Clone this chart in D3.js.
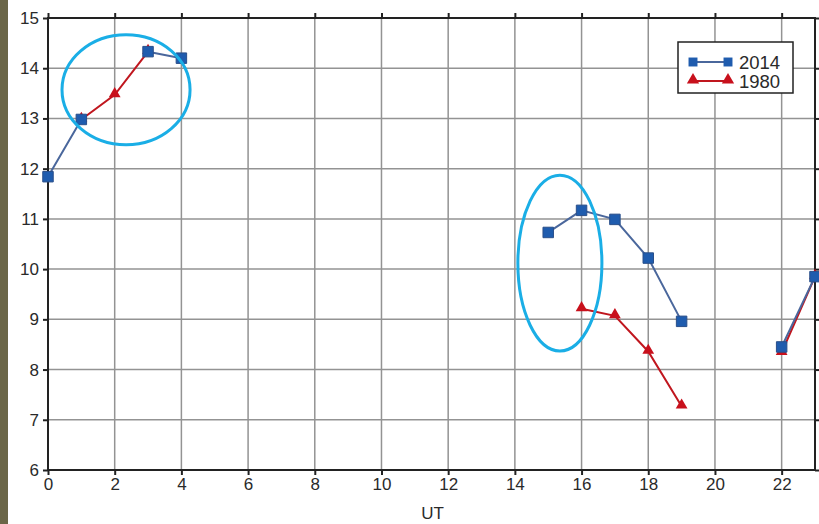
<!DOCTYPE html>
<html>
<head>
<meta charset="utf-8">
<script src="https://cdn.jsdelivr.net/npm/d3@7"></script>
<style>
  body { margin: 0; background: #fff; }
  svg { display: block; font-family: "Liberation Sans", Arial, sans-serif; }
</style>
</head>
<body>
<div id="chart"></div>
<script>
// 数据：每小时 (UT) 的值，null 表示没有数据
const hours = d3.range(0, 24);
const values2014 = [11.84, 12.98, null, 14.33, 14.2, null, null, null, null, null, null, null,
                    null, null, null, 10.73, 11.17, 10.99, 10.22, 8.96, null, null, 8.45, 9.85];
const values1980 = [null, 12.98, 13.47, 14.33, null, null, null, null, null, null, null, null,
                    null, null, null, null, 9.21, 9.07, 8.36, 7.27, null, null, 8.34, 9.85];
const xTicks = d3.range(0, 24, 2);
const yTicks = d3.range(6, 16);
const seriesNames = ["2014", "1980"];
// 标注椭圆（数据坐标）
const ellipses = [
  { cx: 2.34, cy: 13.57, rx: 1.92, ry: 1.095 },
  { cx: 15.35, cy: 10.12, rx: 1.26, ry: 1.75 }
];

const width = 819, height = 524;
const margin = { top: 18, right: 4, bottom: 54, left: 48 };

const svg = d3.select("#chart").append("svg")
  .attr("width", width)
  .attr("height", height);

// 左侧的深色边条
svg.append("rect")
  .attr("x", 0).attr("y", 0)
  .attr("width", 8).attr("height", height)
  .attr("fill", "#6b6648");

const x = d3.scaleLinear().domain([0, 23]).range([margin.left, width - margin.right]);
const y = d3.scaleLinear().domain([6, 15]).range([height - margin.bottom, margin.top]);

// 网格线
svg.append("g")
  .selectAll("line.v")
  .data(xTicks)
  .join("line")
  .attr("x1", d => x(d)).attr("x2", d => x(d))
  .attr("y1", y(6)).attr("y2", y(15))
  .attr("stroke", "#939393").attr("stroke-width", 1.5);

svg.append("g")
  .selectAll("line.h")
  .data(yTicks)
  .join("line")
  .attr("x1", x(0)).attr("x2", x(23))
  .attr("y1", d => y(d)).attr("y2", d => y(d))
  .attr("stroke", "#939393").attr("stroke-width", 1.5);

// 坐标轴
function styleAxis(g, showLabels) {
  g.select(".domain").remove();
  g.selectAll(".tick line").attr("stroke", "#222").attr("stroke-width", 2);
  g.selectAll(".tick text")
    .attr("fill", "#2a2a2a")
    .style("font-size", "17px")
    .attr("opacity", showLabels ? 1 : 0);
}

svg.append("g")
  .attr("transform", `translate(0,${y(6)})`)
  .call(d3.axisBottom(x).tickValues(xTicks).tickSize(5).tickPadding(3))
  .call(g => styleAxis(g, true));

svg.append("g")
  .attr("transform", `translate(0,${y(15)})`)
  .call(d3.axisTop(x).tickValues(xTicks).tickSize(5))
  .call(g => styleAxis(g, false));

svg.append("g")
  .attr("transform", `translate(${x(0)},0)`)
  .call(d3.axisLeft(y).tickValues(yTicks).tickSize(5).tickPadding(4))
  .call(g => styleAxis(g, true));

svg.append("g")
  .attr("transform", `translate(${x(23)},0)`)
  .call(d3.axisRight(y).tickValues(yTicks).tickSize(5))
  .call(g => styleAxis(g, false));

// 边框
svg.append("rect")
  .attr("x", x(0)).attr("y", y(15))
  .attr("width", x(23) - x(0)).attr("height", y(6) - y(15))
  .attr("fill", "none").attr("stroke", "#222").attr("stroke-width", 2);

// X 轴标题
svg.append("text")
  .attr("x", (x(0) + x(23)) / 2 + 1)
  .attr("y", 519)
  .attr("text-anchor", "middle")
  .attr("fill", "#2a2a2a")
  .style("font-size", "17px")
  .text("UT");

const line = d3.line()
  .defined(d => d.v !== null)
  .x(d => x(d.h))
  .y(d => y(d.v));

const red = hours.map((h, i) => ({ h: h, v: values1980[i] }));
const blue = hours.map((h, i) => ({ h: h, v: values2014[i] }));

const tri = d3.symbol().type(d3.symbolTriangle).size(60);
const sq = d3.symbol().type(d3.symbolSquare).size(110);

// 1980 系列
svg.append("path")
  .datum(red)
  .attr("d", line)
  .attr("fill", "none")
  .attr("stroke", "#c0161e")
  .attr("stroke-width", 2);

svg.append("g")
  .selectAll("path")
  .data(red.filter(d => d.v !== null))
  .join("path")
  .attr("transform", d => `translate(${x(d.h)},${y(d.v) - 1})`)
  .attr("d", tri)
  .attr("fill", "#c8101c");

// 2014 系列
svg.append("path")
  .datum(blue)
  .attr("d", line)
  .attr("fill", "none")
  .attr("stroke", "#4a679c")
  .attr("stroke-width", 2);

svg.append("g")
  .selectAll("path")
  .data(blue.filter(d => d.v !== null))
  .join("path")
  .attr("transform", d => `translate(${x(d.h)},${y(d.v)})`)
  .attr("d", sq)
  .attr("fill", "#1f5cae")
  .attr("stroke", "#2a4f8a")
  .attr("stroke-width", 1);

// 标注椭圆
svg.append("g")
  .selectAll("ellipse")
  .data(ellipses)
  .join("ellipse")
  .attr("cx", d => x(d.cx))
  .attr("cy", d => y(d.cy))
  .attr("rx", d => x(d.rx) - x(0))
  .attr("ry", d => y(0) - y(d.ry))
  .attr("fill", "none")
  .attr("stroke", "#1aaee6")
  .attr("stroke-width", 3);

// 图例
const legend = svg.append("g").attr("transform", "translate(678,42)");
legend.append("rect")
  .attr("width", 115).attr("height", 51)
  .attr("fill", "#fff")
  .attr("stroke", "#222").attr("stroke-width", 1.5);

const legendColors = [
  { line: "#4a679c", mark: "#1f5cae" },
  { line: "#c0161e", mark: "#c8101c" }
];
seriesNames.forEach((name, i) => {
  const cy = 20 + i * 19;
  const c = legendColors[i];
  legend.append("line")
    .attr("x1", 15).attr("x2", 50)
    .attr("y1", cy).attr("y2", cy)
    .attr("stroke", c.line).attr("stroke-width", 2);
  [15, 50].forEach(px => {
    legend.append("path")
      .attr("transform", `translate(${px},${cy - (i === 1 ? 1 : 0)})`)
      .attr("d", i === 0 ? d3.symbol().type(d3.symbolSquare).size(80)() : d3.symbol().type(d3.symbolTriangle).size(65)())
      .attr("fill", c.mark);
  });
  legend.append("text")
    .attr("x", 61).attr("y", cy + 6.5)
    .attr("fill", "#2a2a2a")
    .style("font-size", "18.5px")
    .text(name);
});
</script>
</body>
</html>
